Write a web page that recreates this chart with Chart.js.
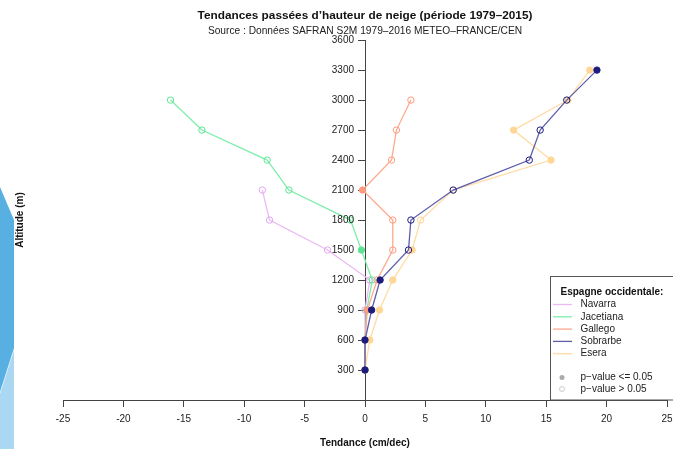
<!DOCTYPE html>
<html>
<head>
<meta charset="utf-8">
<script src="https://cdn.jsdelivr.net/npm/chart.js@4.4.1/dist/chart.umd.min.js"></script>
<style>
  body { margin: 0; background: #fff; }
  #wrap { position: relative; width: 673px; height: 449px; overflow: hidden; }
  .deco { position: absolute; left: 0; top: 0; width: 15px; height: 449px; }
  #decoDark { background: #57afe2; clip-path: polygon(0 187px, 14px 220px, 14px 348px, 0 392px); }
  #decoLight { background: #aad8f2; clip-path: polygon(14px 350px, 14px 449px, 0 449px, 0 394px); }
  canvas { position: absolute; left: 0; top: 0; }
</style>
</head>
<body>
<div id="wrap">
  <div class="deco" id="decoDark"></div>
  <div class="deco" id="decoLight"></div>
  <canvas id="snowChart" width="673" height="449"></canvas>
</div>
<script>
// Altitudes (m) and trends (cm/dec)
const altitudes = [300, 600, 900, 1200, 1500, 1800, 2100, 2400, 2700, 3000, 3300];
const navarra   = [0, 0, 0, 0.4, -3.1, -7.9, -8.5, null, null, null, null];
const jacetiana = [0, 0, 0.15, 0.6, -0.3, -1.2, -6.3, -8.1, -13.5, -16.1, null];
const gallego   = [0, 0, 0.2, 1.0, 2.3, 2.3, -0.2, 2.2, 2.6, 3.8, null];
const sobrarbe  = [0, 0, 0.55, 1.25, 3.6, 3.8, 7.3, 13.6, 14.5, 16.7, 19.2];
const esera     = [0, 0.4, 1.2, 2.3, 3.9, 4.6, 7.3, 15.4, 12.3, 16.8, 18.6];

// 1 = p-value <= 0.05 (filled point), 0 = open point
const sigNavarra   = [1, 0, 0, 0, 0, 0, 0, 0, 0, 0, 0];
const sigJacetiana = [1, 1, 0, 0, 1, 0, 0, 0, 0, 0, 0];
const sigGallego   = [1, 0, 1, 0, 0, 0, 1, 0, 0, 0, 0];
const sigSobrarbe  = [1, 1, 1, 1, 0, 0, 0, 0, 0, 0, 1];
const sigEsera     = [1, 1, 1, 1, 1, 0, 0, 1, 1, 1, 1];

const xTicks = [-25, -20, -15, -10, -5, 0, 5, 10, 15, 20, 25];
const yTicks = [300, 600, 900, 1200, 1500, 1800, 2100, 2400, 2700, 3000, 3300, 3600];

const seriesNames = ["Navarra", "Jacetiana", "Gallego", "Sobrarbe", "Esera"];
const lineColors  = ["#ecb8f6", "#7eeeaa", "#ffa98e", "#5e5eac", "#ffdca6"];
const pointColors = ["#e2a6f0", "#5fe495", "#ff9a7c", "#1c1c7c", "#ffd696"];

const FONT = "'Liberation Sans', Arial, Helvetica, sans-serif";

function buildDataset(i, values, sig, order) {
  const pts = [];
  const bg = [];
  values.forEach((v, k) => {
    if (v === null) return;
    pts.push({ x: v, y: altitudes[k] });
    bg.push(sig[k] ? pointColors[i] : "rgba(0,0,0,0)");
  });
  return {
    label: seriesNames[i],
    data: pts,
    showLine: true,
    borderColor: lineColors[i],
    borderWidth: 1.3,
    pointBorderColor: pointColors[i],
    pointBackgroundColor: bg,
    pointBorderWidth: 1,
    pointRadius: 3.2,
    order: order,
  };
}

// y tick labels, y axis title and the legend box
const extrasPlugin = {
  id: "extras",
  afterDraw(chart) {
    const ctx = chart.ctx;
    const area = chart.chartArea;
    const axisX = chart.scales.x.getPixelForValue(0);

    ctx.save();
    ctx.fillStyle = "#222";
    ctx.font = "10px " + FONT;
    ctx.textAlign = "right";
    ctx.textBaseline = "middle";
    yTicks.forEach((v) => {
      ctx.fillText(String(v), axisX - 11, chart.scales.y.getPixelForValue(v));
    });
    ctx.restore();

    ctx.save();
    ctx.fillStyle = "#111";
    ctx.font = "bold 10px " + FONT;
    ctx.textAlign = "center";
    ctx.textBaseline = "middle";
    ctx.translate(20, (area.top + area.bottom) / 2);
    ctx.rotate(-Math.PI / 2);
    ctx.fillText("Altitude (m)", 0, 0);
    ctx.restore();

    // legend
    const bx = 550.5, by = 276.5, bottom = area.bottom;
    ctx.save();
    ctx.fillStyle = "#fff";
    ctx.fillRect(bx, by, 130, bottom - by);
    ctx.strokeStyle = "#555";
    ctx.lineWidth = 1;
    ctx.strokeRect(bx, by, 130, bottom - by);
    ctx.fillStyle = "#111";
    ctx.textBaseline = "middle";
    ctx.textAlign = "left";
    ctx.font = "bold 10px " + FONT;
    ctx.fillText("Espagne occidentale:", 560.5, 292.5);
    ctx.font = "10px " + FONT;
    seriesNames.forEach((name, i) => {
      const y = 304.5 + i * 12.3;
      ctx.strokeStyle = lineColors[i];
      ctx.lineWidth = 1.3;
      ctx.beginPath();
      ctx.moveTo(553, y);
      ctx.lineTo(572, y);
      ctx.stroke();
      ctx.fillStyle = "#222";
      ctx.fillText(name, 580.5, y);
    });
    const pv = [["p\u2212value <= 0.05", true], ["p\u2212value > 0.05", false]];
    pv.forEach((p, i) => {
      const y = 377.5 + i * 11.5;
      ctx.beginPath();
      ctx.arc(562, y, 2.5, 0, Math.PI * 2);
      ctx.lineWidth = 1;
      if (p[1]) {
        ctx.fillStyle = "#aaa";
        ctx.fill();
      } else {
        ctx.strokeStyle = "#ccc";
        ctx.stroke();
      }
      ctx.fillStyle = "#222";
      ctx.fillText(p[0], 580.5, y);
    });
    ctx.restore();
  },
};

new Chart(document.getElementById("snowChart").getContext("2d"), {
  type: "scatter",
  data: {
    datasets: [
      buildDataset(0, navarra, sigNavarra, 4),
      buildDataset(1, jacetiana, sigJacetiana, 3),
      buildDataset(2, gallego, sigGallego, 2),
      buildDataset(4, esera, sigEsera, 1),
      buildDataset(3, sobrarbe, sigSobrarbe, 0),
    ],
  },
  options: {
    responsive: false,
    animation: false,
    layout: { padding: { left: 63, right: 6, top: 0, bottom: 0 } },
    plugins: {
      legend: { display: false },
      tooltip: { enabled: false },
      title: {
        display: true,
        text: "Tendances pass\u00e9es d\u2019hauteur de neige (p\u00e9riode 1979\u20132015)",
        color: "#111",
        font: { family: FONT, size: 11.8, weight: "bold" },
        padding: { top: 9, bottom: 0.5 },
      },
      subtitle: {
        display: true,
        text: "Source : Donn\u00e9es SAFRAN S2M 1979\u20132016 METEO\u2013FRANCE/CEN",
        color: "#222",
        font: { family: FONT, size: 10.2 },
        padding: { top: 1, bottom: 3.2 },
      },
    },
    scales: {
      x: {
        type: "linear",
        min: -25,
        max: 25,
        afterBuildTicks: (s) => { s.ticks = xTicks.map((v) => ({ value: v })); },
        afterFit: (s) => { s.height = 49; s.paddingLeft = 0; s.paddingRight = 0; },
        ticks: { color: "#222", font: { family: FONT, size: 10 }, padding: 6, maxRotation: 0, autoSkip: false },
        grid: { drawOnChartArea: false, drawTicks: true, tickLength: 7, color: "#444" },
        border: { display: true, color: "#444" },
        title: {
          display: true,
          text: "Tendance (cm/dec)",
          color: "#111",
          font: { family: FONT, size: 10, weight: "bold" },
          padding: { top: 0, bottom: 0 },
        },
      },
      y: {
        type: "linear",
        min: 0,
        max: 3600,
        position: { x: 0 },
        afterBuildTicks: (s) => { s.ticks = yTicks.map((v) => ({ value: v })); },
        ticks: { display: false },
        grid: { drawOnChartArea: false, drawTicks: true, tickLength: 7, color: "#444" },
        border: { display: true, color: "#444" },
      },
    },
  },
  plugins: [extrasPlugin],
});
</script>
</body>
</html>
